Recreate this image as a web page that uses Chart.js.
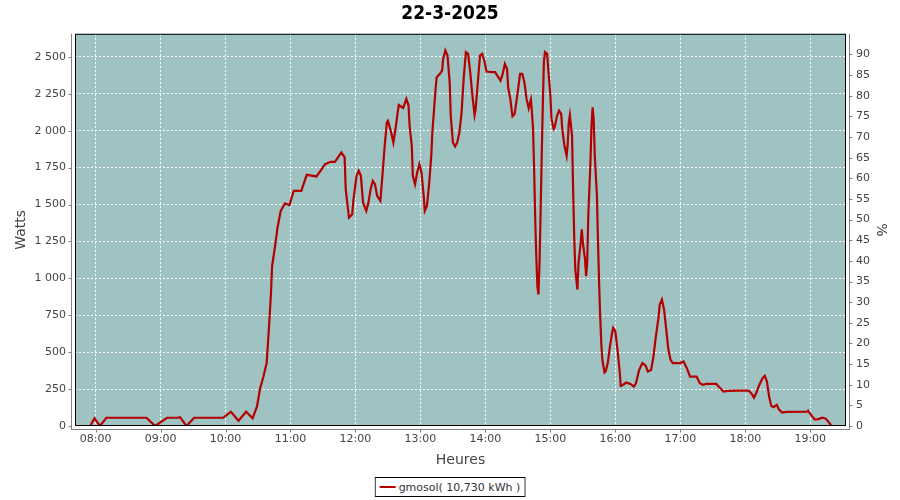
<!DOCTYPE html>
<html>
<head>
<meta charset="utf-8">
<title>22-3-2025</title>
<script src="https://cdn.jsdelivr.net/npm/chart.js@4.4.1/dist/chart.umd.min.js"></script>
<style>
  html, body { margin: 0; padding: 0; background: #fff; }
  #wrap { position: relative; width: 900px; height: 500px; }
  #powerChart { display: block; }
  #legend {
    position: absolute; left: 50%; top: 477px; transform: translateX(-50%);
    height: 20px; box-sizing: border-box; border: 1px solid #000; background: #fff;
    font: 11px 'DejaVu Sans', sans-serif; color: #333;
    display: flex; align-items: center; padding: 0 4px; white-space: nowrap;
  }
  #legend .swatch { display: inline-block; width: 16px; height: 2px; margin-right: 3px; }
</style>
</head>
<body>
<div id="wrap">
  <canvas id="powerChart" width="900" height="500"></canvas>
  <div id="legend"></div>
</div>
<script>
// power log 22-3-2025 (W, one sample every few minutes)

const chartTitle = '22-3-2025';
const seriesLabel = 'gmosol( 10,730 kWh )';

const times = [
  '07:55', '07:59', '08:04', '08:10', '08:47', '08:55', '09:06', '09:16', '09:18', '09:24',
  '09:31', '09:58', '10:05', '10:12', '10:19', '10:25', '10:29', '10:32', '10:35', '10:38',
  '10:40', '10:42', '10:43', '10:46', '10:48', '10:51', '10:55', '10:59', '11:03', '11:10',
  '11:15', '11:24', '11:32', '11:37', '11:41', '11:47', '11:50', '11:51', '11:54', '11:57',
  '11:58', '12:01', '12:03', '12:05', '12:07', '12:10', '12:12', '12:14', '12:16', '12:18',
  '12:20', '12:23', '12:25', '12:27', '12:29', '12:30', '12:33', '12:35', '12:37', '12:39',
  '12:40', '12:44', '12:47', '12:49', '12:50', '12:52', '12:53', '12:55', '12:57', '12:59',
  '13:01', '13:03', '13:04', '13:06', '13:08', '13:10', '13:11', '13:14', '13:15', '13:18',
  '13:20', '13:21', '13:23', '13:25', '13:27', '13:28', '13:30', '13:32', '13:34', '13:36',
  '13:38', '13:40', '13:42', '13:44', '13:46', '13:48', '13:50', '13:51', '13:53', '13:55',
  '13:57', '13:59', '14:01', '14:06', '14:09', '14:11', '14:14', '14:16', '14:18', '14:20',
  '14:21', '14:23', '14:25', '14:27', '14:30', '14:32', '14:34', '14:36', '14:38', '14:40',
  '14:42', '14:43', '14:44', '14:45', '14:46', '14:47', '14:48', '14:49', '14:50', '14:51',
  '14:52', '14:53', '14:54', '14:55', '14:57', '14:58', '15:00', '15:01', '15:03', '15:04',
  '15:06', '15:08', '15:10', '15:11', '15:13', '15:15', '15:16', '15:17', '15:18', '15:20',
  '15:21', '15:22', '15:23', '15:25', '15:26', '15:28', '15:29', '15:30', '15:32', '15:33',
  '15:34', '15:35', '15:37', '15:38', '15:39', '15:40', '15:41', '15:43', '15:44', '15:45',
  '15:46', '15:47', '15:48', '15:50', '15:51', '15:53', '15:55', '15:57', '15:58', '16:00',
  '16:02', '16:04', '16:05', '16:07', '16:10', '16:14', '16:17', '16:19', '16:22', '16:25',
  '16:28', '16:30', '16:33', '16:35', '16:37', '16:40', '16:41', '16:43', '16:45', '16:47',
  '16:49', '16:51', '16:53', '17:00', '17:03', '17:06', '17:09', '17:15', '17:18', '17:21',
  '17:24', '17:33', '17:37', '17:40', '17:44', '17:52', '18:03', '18:06', '18:08', '18:10',
  '18:13', '18:16', '18:18', '18:20', '18:22', '18:24', '18:26', '18:29', '18:31', '18:34',
  '18:38', '18:57', '18:58', '19:00', '19:04', '19:07', '19:11', '19:14', '19:16', '19:19',
  '19:20'
];

const watts = [
  0, 52, 0, 56, 56, 0, 56, 56, 60, 0,
  56, 56, 97, 36, 97, 52, 131, 256, 335, 426,
  652, 901, 1082, 1230, 1343, 1456, 1508, 1495, 1592, 1592,
  1701, 1690, 1773, 1789, 1789, 1853, 1819, 1603, 1411, 1434,
  1524, 1694, 1728, 1694, 1513, 1456, 1513, 1603, 1660, 1637,
  1558, 1524, 1705, 1898, 2056, 2067, 1988, 1920, 2011, 2124,
  2174, 2154, 2215, 2170, 2033, 1898, 1694, 1637, 1717, 1773,
  1717, 1558, 1456, 1490, 1637, 1830, 1988, 2283, 2362, 2385,
  2407, 2486, 2543, 2509, 2328, 2101, 1920, 1893, 1920, 1988,
  2124, 2362, 2532, 2520, 2396, 2237, 2106, 2147, 2328, 2509,
  2520, 2475, 2400, 2396, 2396, 2373, 2339, 2385, 2452, 2418,
  2294, 2215, 2097, 2113, 2271, 2385, 2385, 2328, 2215, 2151,
  2210, 2124, 2011, 1739, 1399, 1150, 946, 890, 1105, 1456,
  1830, 2169, 2464, 2532, 2520, 2418, 2237, 2083, 2011, 2022,
  2097, 2135, 2113, 2011, 1898, 1830, 1909, 2056, 2106, 1965,
  1603, 1286, 1060, 924, 1105, 1241, 1331, 1241, 1128, 1014,
  1105, 1422, 1785, 2033, 2158, 2079, 1830, 1558, 1241, 969,
  743, 562, 448, 362, 369, 426, 539, 630, 664, 641,
  516, 369, 272, 278, 294, 285, 267, 289, 380, 426,
  408, 369, 380, 460, 584, 743, 822, 856, 788, 652,
  516, 448, 426, 426, 437, 392, 335, 335, 290, 279,
  285, 285, 256, 233, 238, 240, 240, 217, 192, 222,
  279, 324, 340, 301, 199, 136, 127, 143, 113, 91,
  95, 97, 104, 82, 45, 45, 56, 51, 36, 7,
  0
];

const hourTicks = ['08:00', '09:00', '10:00', '11:00', '12:00', '13:00', '14:00', '15:00', '16:00', '17:00', '18:00', '19:00'];
const wattStep = 250;
const percentStep = 5;

// axis ranges (as drawn)
const timeMin = '07:41';
const timeMax = '19:33';
const wattMax = 2656;
const percentMax = 95;

// ── Colours / fonts ──
const lineColor = '#b40000';
const plotBg = '#9ec3c2';
const axisGrey = '#808080';
const textGrey = '#444';
const tickFont = { family: "'DejaVu Sans', sans-serif", size: 11 };
const axisTitleFont = { family: "'DejaVu Sans', sans-serif", size: 14 };

function toMinutes(hhmm) {
  const [h, m] = hhmm.split(':').map(Number);
  return h * 60 + m;
}

function minutesLabel(v) {
  const h = Math.floor(v / 60), m = Math.round(v % 60);
  return String(h).padStart(2, '0') + ':' + String(m).padStart(2, '0');
}

function spaced(v) {
  return String(v).replace(/\B(?=(\d{3})+(?!\d))/g, ' ');
}

// background, black frame, and JFreeChart-style axis lines set 4px off the plot
const plotFrame = {
  id: 'plotFrame',
  beforeDraw(chart) {
    const { ctx, chartArea: a } = chart;
    ctx.save();
    ctx.fillStyle = plotBg;
    ctx.fillRect(a.left, a.top, a.right - a.left, a.bottom - a.top);
    ctx.restore();
  },
  afterDatasetsDraw(chart) {
    const { ctx, chartArea: a, scales } = chart;
    ctx.save();
    ctx.strokeStyle = '#000';
    ctx.lineWidth = 1;
    ctx.strokeRect(a.left + 0.5, a.top + 0.5, a.right - a.left - 1, a.bottom - a.top - 1);

    const lx = a.left - 3.5, rx = a.right + 3.5, by = a.bottom + 3.5;
    ctx.strokeStyle = axisGrey;
    ctx.beginPath();
    ctx.moveTo(lx, a.top); ctx.lineTo(lx, a.bottom + 4);
    ctx.moveTo(rx, a.top); ctx.lineTo(rx, a.bottom + 4);
    ctx.moveTo(a.left - 4, by); ctx.lineTo(a.right + 4, by);
    scales.y.ticks.forEach(t => {
      const py = Math.round(scales.y.getPixelForValue(t.value)) + 0.5;
      ctx.moveTo(lx - 3, py); ctx.lineTo(lx, py);
    });
    scales.y1.ticks.forEach(t => {
      const py = Math.round(scales.y1.getPixelForValue(t.value)) + 0.5;
      ctx.moveTo(rx, py); ctx.lineTo(rx + 3, py);
    });
    scales.x.ticks.forEach(t => {
      const px = Math.round(scales.x.getPixelForValue(t.value)) + 0.5;
      ctx.moveTo(px, by); ctx.lineTo(px, by + 3);
    });
    ctx.stroke();
    ctx.restore();
  }
};

const ctx = document.getElementById('powerChart').getContext('2d');

const powerChart = new Chart(ctx, {
  type: 'line',
  data: {
    datasets: [{
      label: seriesLabel,
      data: times.map((t, i) => ({ x: toMinutes(t), y: watts[i] })),
      borderColor: lineColor,
      backgroundColor: lineColor,
      borderWidth: 2.2,
      pointRadius: 0,
      tension: 0,
      fill: false,
      xAxisID: 'x',
      yAxisID: 'y'
    }]
  },
  options: {
    responsive: false,
    animation: false,
    events: [],
    layout: { padding: 0 },
    plugins: {
      legend: { display: false },
      tooltip: { enabled: false },
      title: {
        display: true,
        text: chartTitle,
        color: '#000',
        font: { family: "'DejaVu Sans Condensed', 'DejaVu Sans', sans-serif", size: 19, weight: 'bold' },
        padding: { top: 3, bottom: 8 }
      }
    },
    scales: {
      x: {
        type: 'linear',
        position: 'bottom',
        min: toMinutes(timeMin),
        max: toMinutes(timeMax),
        afterFit: s => { s.height = 74; },
        afterBuildTicks: s => { s.ticks = hourTicks.map(h => ({ value: toMinutes(h) })); },
        ticks: { callback: v => minutesLabel(v), color: textGrey, font: tickFont, padding: 7, maxRotation: 0, autoSkip: false },
        grid: { color: '#fff', lineWidth: 1, drawTicks: false },
        border: { display: false, dash: [2, 2] },
        title: { display: true, text: 'Heures', color: textGrey, font: axisTitleFont, padding: { top: 0, bottom: 31 } }
      },
      y: {
        type: 'linear',
        position: 'left',
        min: 0,
        max: wattMax,
        afterFit: s => { s.width = 75; },
        afterBuildTicks: s => { s.ticks = s.ticks.filter(t => t.value % wattStep === 0); },
        ticks: { stepSize: wattStep, callback: v => spaced(v), color: textGrey, font: tickFont, padding: 9 },
        grid: { color: '#fff', lineWidth: 1, drawTicks: false },
        border: { display: false, dash: [2, 2] },
        title: { display: true, text: 'Watts', color: textGrey, font: axisTitleFont, padding: { top: 13, bottom: 0 } }
      },
      y1: {
        type: 'linear',
        position: 'right',
        min: 0,
        max: percentMax,
        afterFit: s => { s.width = 54; },
        afterBuildTicks: s => { s.ticks = s.ticks.filter(t => t.value % percentStep === 0 && t.value < percentMax); },
        ticks: { stepSize: percentStep, color: textGrey, font: tickFont, padding: 10 },
        grid: { drawOnChartArea: false, drawTicks: false },
        border: { display: false },
        title: { display: true, text: '%', color: textGrey, font: axisTitleFont, padding: { top: 11, bottom: 0 } }
      }
    }
  },
  plugins: [plotFrame]
});

// ── Legend (boxed, under the axis title) ──
function renderLegend(chart) {
  const el = document.getElementById('legend');
  el.innerHTML = chart.data.datasets.map(d =>
    `<span class="swatch" style="background:${d.borderColor}"></span><span>${d.label}</span>`
  ).join('');
}

renderLegend(powerChart);
</script>
</body>
</html>
